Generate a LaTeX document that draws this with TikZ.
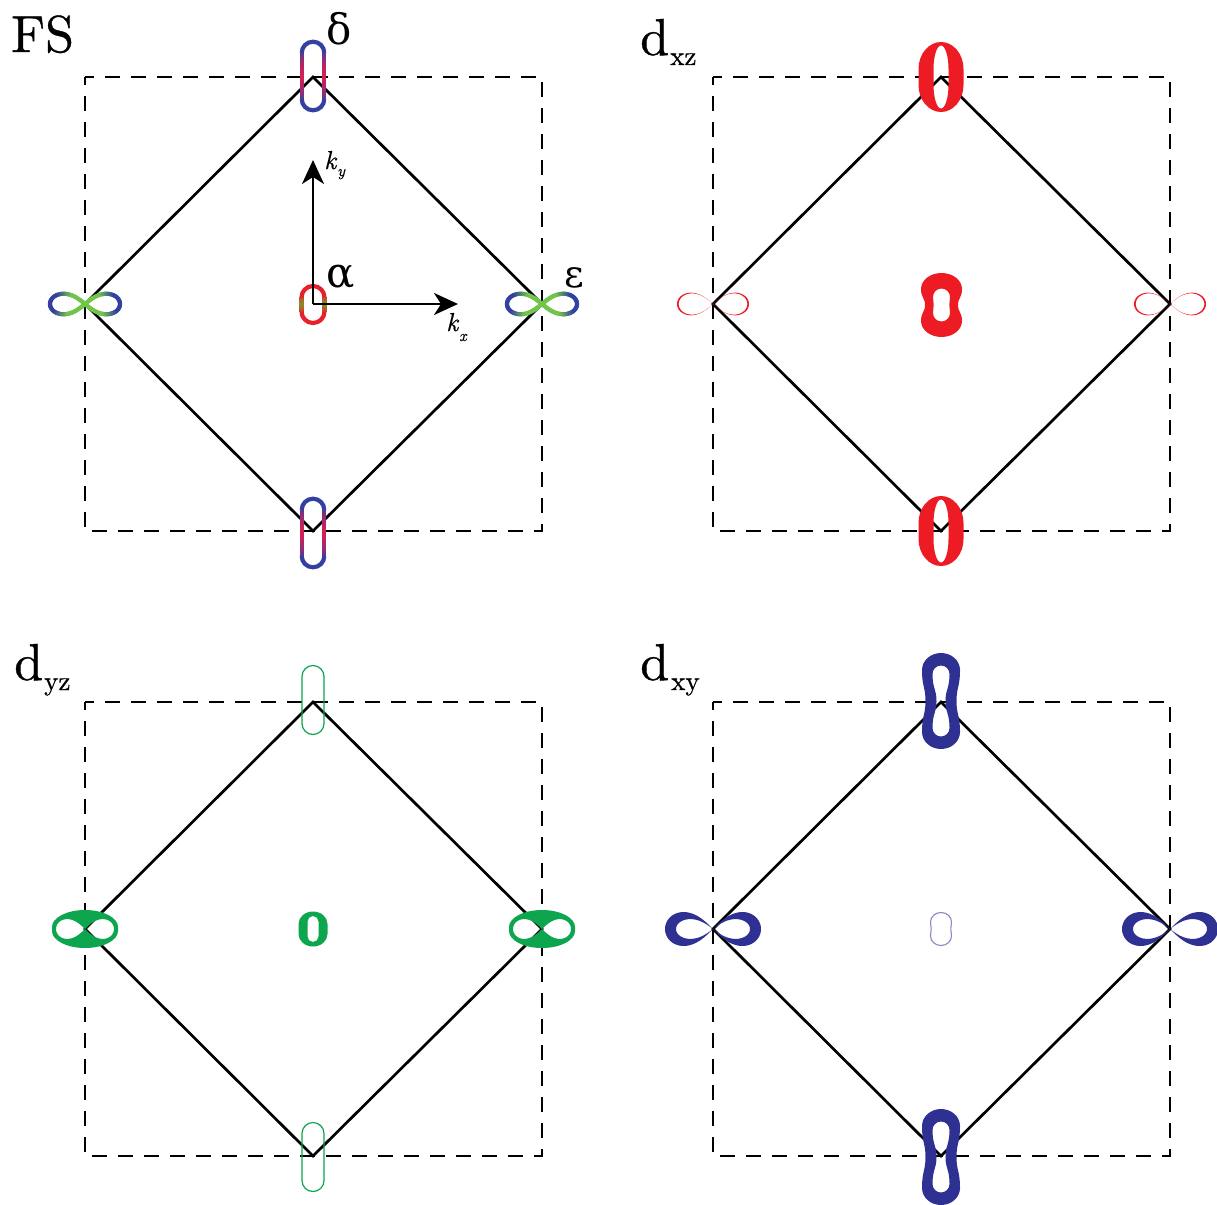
\documentclass[tikz,border=0pt]{standalone}
\usepackage{fontspec}
\newfontfamily\gser{DejaVu Serif}
\newfontfamily\lmfb{lmroman10-regular.otf}[FakeBold=0.7]
\newfontfamily\lmfbi{lmroman10-italic.otf}[FakeBold=0.6]
\usetikzlibrary{arrows.meta}
\definecolor{fsblue}{HTML}{3340A0}
\definecolor{fsred}{HTML}{D61F55}
\definecolor{fsgreen}{HTML}{72C44A}
\definecolor{ared}{HTML}{E8202A}
\definecolor{aolive}{HTML}{8C8A2C}
\definecolor{pred}{HTML}{ED1C24}
\definecolor{pgreen}{HTML}{0DA54E}
\definecolor{pblue}{HTML}{2E3192}
\definecolor{plav}{HTML}{8A86C8}
% peanut: x radius, y straight half, waist, cap y radius
\newcommand\pnut[4]{({#1},{-(#2)}) arc[start angle=0,end angle=-180,x radius=#1,y radius=#4]
 .. controls ({-(#1)},{-0.45*(#2)}) and ({-(#3)},{-0.45*(#2)}) .. ({-(#3)},0)
 .. controls ({-(#3)},{0.45*(#2)}) and ({-(#1)},{0.45*(#2)}) .. ({-(#1)},{#2})
 arc[start angle=180,end angle=0,x radius=#1,y radius=#4]
 .. controls ({#1},{0.45*(#2)}) and ({#3},{0.45*(#2)}) .. ({#3},0)
 .. controls ({#3},{-0.45*(#2)}) and ({#1},{-0.45*(#2)}) .. ({#1},{-(#2)}) -- cycle}
\newcommand\lemn[2]{plot[domain=0:360,samples=145] ({#1*cos(\x)/(1+sin(\x)*sin(\x))},{#2*sin(\x)*cos(\x)/(1+sin(\x)*sin(\x))}) -- cycle}
% gradient stadium: cx cy r s capcolor sidecolor
\newcommand\gstad[6]{%
 \draw[#5, line width=4.2pt] ({#1+#3},{#2-#4}) arc[start angle=0,end angle=-180,radius=#3];
 \draw[#5, line width=4.2pt] ({#1-#3},{#2+#4}) arc[start angle=180,end angle=0,radius=#3];
 \foreach \k in {0,...,23}{%
  \pgfmathsetmacro\ya{-#4+2*#4*\k/24-0.2}%
  \pgfmathsetmacro\yb{-#4+2*#4*(\k+1)/24+0.2}%
  \pgfmathsetmacro\p{100*(1-abs((\ya+\yb)/2)/#4)^0.45}%
  \draw[line width=4.2pt, color=#6!\p!#5] ({#1-#3},{#2+\ya}) -- ({#1-#3},{#2+\yb});
  \draw[line width=4.2pt, color=#6!\p!#5] ({#1+#3},{#2+\ya}) -- ({#1+#3},{#2+\yb});
 }}
% gradient lemniscate: cx cy
\newcommand\geps[2]{%
 \foreach \t in {0,3,...,357}{%
  \pgfmathsetmacro\xa{35*cos(\t)/(1+sin(\t)*sin(\t))}%
  \pgfmathsetmacro\ya{29*sin(\t)*cos(\t)/(1+sin(\t)*sin(\t))}%
  \pgfmathsetmacro\xb{35*cos(\t+3)/(1+sin(\t+3)*sin(\t+3))}%
  \pgfmathsetmacro\yb{29*sin(\t+3)*cos(\t+3)/(1+sin(\t+3)*sin(\t+3))}%
  \pgfmathsetmacro\q{100*max(0,min(1,(abs(cos(\t+1.5))/(1+sin(\t+1.5)*sin(\t+1.5))-0.45)/0.4))}%
  \draw[line width=4.2pt, line cap=round, color=fsblue!\q!fsgreen] ({#1+\xa},{#2+\ya}) -- ({#1+\xb},{#2+\yb});
 }}
\tikzset{
 bz/.style={line width=2.7pt, black},
 bzdash/.style={line width=2.7pt, black, dash pattern=on 15pt off 11pt, dash phase=7pt},
 axis/.style={line width=2.4pt, -{Stealth[length=24pt,width=22pt,inset=7pt]}},
 big/.style={inner sep=0pt, anchor=base west, font=\lmfb\fontsize{52}{52}\selectfont},
 greek/.style={inner sep=0pt, anchor=base west, font=\gser\fontsize{42}{42}\selectfont},
 subs/.style={inner sep=0pt, anchor=base west, font=\lmfb\fontsize{27}{27}\selectfont},
 kit/.style={inner sep=0pt, anchor=base west, font=\lmfbi\fontsize{26}{26}\selectfont},
 kitsub/.style={inner sep=0pt, anchor=base west, font=\lmfbi\fontsize{16}{16}\selectfont},
}
\begin{document}
\begin{tikzpicture}[x=1pt,y=-1pt]
\useasboundingbox (0,0) rectangle (1217,1204);
\fill[white] (0,0) rectangle (1217,1204);
% frames
\foreach \cx/\cy/\n in {313/304/a, 941/304/b, 313/929/c, 941/929/d}{
 \coordinate (\n c) at (\cx,\cy);
 \coordinate (\n t) at (\cx,\cy-227);
 \coordinate (\n b) at (\cx,\cy+227);
 \coordinate (\n l) at (\cx-228,\cy);
 \coordinate (\n r) at (\cx+229,\cy);
 \draw[bzdash] (\cx-228,\cy-227) rectangle (\cx+229,\cy+227);
 \draw[bz, line join=miter] (\n t) -- (\n r) -- (\n b) -- (\n l) -- cycle;
}
% ---------- FS panel ----------
\gstad{313}{76}{11.3}{23}{fsblue}{fsred}
\gstad{313}{533}{11.3}{23}{fsblue}{fsred}
\geps{85}{304}
\geps{542}{304}
\gstad{313}{304.5}{11.5}{7}{ared}{aolive}
\coordinate (kyend) at (313,160);
\coordinate (kxend) at (458,304);
\draw[axis] (ac) -- (kyend);
\draw[axis] (ac) -- (kxend);
\node[big] (lfs) at (11,52) {FS};
\node[greek] (ldelta) at (326,45) {δ};
\node[greek] (lalpha) at (326,287) {α};
\node[greek, font=\gser\fontsize{38}{38}\selectfont] (leps) at (564,287) {ε};
\node[kit] (lky) at (324,169) {k};
\node[kitsub] (lkysub) at (337,176) {y};
\node[kit] (lkx) at (446,331) {k};
\node[kitsub] (lkxsub) at (459,341) {x};
% ---------- dxz panel ----------
\fill[pred, even odd rule, shift={(941,77)}] \pnut{22.5}{8}{22.5}{27} \pnut{7.5}{8}{7.5}{23.5};
\fill[pred, even odd rule, shift={(941,531)}] \pnut{22.5}{8}{22.5}{27} \pnut{7.5}{8}{7.5}{23.5};
\fill[pred, even odd rule, shift={(941.5,305)}] \pnut{20.5}{16}{16.5}{16} \pnut{8.5}{8}{7.8}{8.5};
\fill[pred, even odd rule, shift={(713,304)}] \lemn{36}{32} \lemn{34.3}{30};
\fill[pred, even odd rule, shift={(1170,304)}] \lemn{36}{32} \lemn{34.3}{30};
\node[big] (ldxz) at (640,55) {d};
\node[subs] (ldxzs) at (670,65) {xz};
% ---------- dyz panel ----------
\fill[pgreen, even odd rule, shift={(85,929)}] \pnut{33}{2}{33}{17} \lemn{29}{28};
\fill[pgreen, even odd rule, shift={(542,929)}] \pnut{33}{2}{33}{17} \lemn{29}{28};
\draw[pgreen, line width=1.2pt, shift={(313,700)}] \pnut{11}{23.5}{11}{11};
\draw[pgreen, line width=1.2pt, shift={(313,1157)}] \pnut{11}{23.5}{11}{11};
\fill[pgreen, even odd rule, shift={(313,929)}] \pnut{14.5}{5}{14.5}{12.5} \pnut{5.5}{7.5}{5.5}{5.5};
\node[big] (ldyz) at (14,680) {d};
\node[subs] (ldyzs) at (44,690) {yz};
% ---------- dxy panel ----------
\fill[pblue, even odd rule, shift={(941,701)}] \pnut{19}{31}{15.5}{17} \pnut{8.5}{27}{4.5}{8.5};
\fill[pblue, even odd rule, shift={(941,1157)}] \pnut{19}{31}{15.5}{17} \pnut{8.5}{27}{4.5}{8.5};
\fill[pblue, even odd rule, shift={(713,929)}] \lemn{48}{48} \lemn{37}{28};
\fill[pblue, even odd rule, shift={(1170,929)}] \lemn{48}{48} \lemn{37}{28};
\draw[plav, line width=1.1pt, shift={(941,929)}] \pnut{10.5}{7}{9.8}{9.5};
\node[big] (ldxy) at (640,680) {d};
\node[subs] (ldxys) at (671,690) {xy};
\end{tikzpicture}
\end{document}
